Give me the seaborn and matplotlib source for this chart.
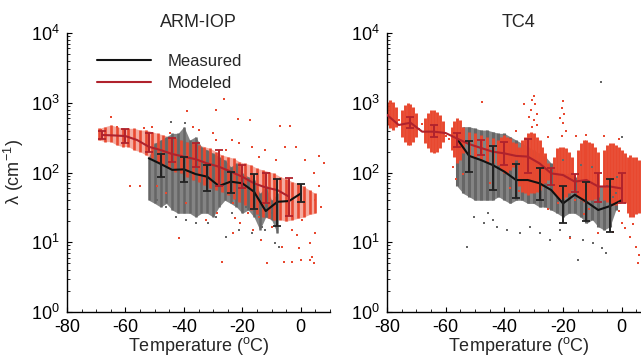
import numpy as np
import pandas as pd
import matplotlib
matplotlib.use("Agg")
import matplotlib.pyplot as plt
import seaborn as sns
from matplotlib.ticker import MultipleLocator, LogLocator, NullFormatter, FixedLocator

# ---------------- data ----------------
# ARM-IOP : binned medians and error bars
arm_mod_T = [-68, -64, -60, -56, -52, -48, -44, -40, -36, -32, -28, -24, -20, -16, -12, -8, -4]
arm_mod_y = [345, 340, 333, 292, 234, 210, 184, 169, 155, 135, 121, 103, 87, 70, 61, 56, 45]
arm_mod_err_T = [-68, -60, -52, -44, -36, -28, -20, -12, -4]
arm_mod_err_lo = [299, 262, 199, 143, 121, 63, 59, 37, 24]
arm_mod_err_hi = [394, 417, 365, 309, 267, 210, 126, 100, 83]

arm_meas_T = [-52, -48, -44, -40, -36, -32, -28, -24, -20, -16, -12, -8, -4, 0]
arm_meas_y = [160, 133, 109, 111, 95, 87, 64, 74, 70, 53, 28, 38, 39, 50]
arm_meas_err_T = [-48, -40, -32, -24, -16, -8, 0]
arm_meas_err_lo = [85, 72, 55, 51, 30, 17, 38]
arm_meas_err_hi = [184, 169, 128, 103, 95, 80, 68]

# ARM-IOP : extent of the dense point clouds per temperature column
arm_gray_T = list(range(-52, -7, 2))
arm_gray_hi = [169, 262, 292, 326, 364, 364, 454, 292, 326, 235, 210, 188, 169, 151, 121, 135, 97, 87, 78, 50, 63, 40, 50]
arm_gray_lo = [40, 36, 32, 36, 29, 26, 26, 26, 23, 26, 26, 23, 32, 40, 36, 32, 26, 29, 23, 15, 23, 21, 13.4]

arm_red_T = list(range(-69, 6, 2))
arm_red_hi = [430, 454, 480, 454, 430, 430, 430, 406, 406, 385, 364, 344, 326, 309, 292, 277, 262, 248, 235, 222,
              199, 178, 169, 160, 143, 135, 128, 115, 109, 103, 97, 87, 82, 74, 70, 63, 56, 50]
arm_red_lo = [292, 277, 277, 248, 235, 235, 210, 199, 178, 160, 143, 128, 115, 103, 97, 87, 78, 74, 66, 59,
              56, 53, 48, 42, 38, 34, 29, 25, 23, 22, 21, 21, 20, 21, 22, 23, 25, 26]

# ARM-IOP : scattered individual points
arm_red_pts_T = [-64.9, -58.5, -55.1, -41.8, -39.0, -29.0, -26.4, -21.6, -17.4, -7.1, -3.8, -1.5, 6.4, 7.8, 6.1,
                 5.0, 7.0, -26.8, -11.6, -5.6, -3.1, 0.0, 3.3, 3.9, 4.4, -13.7, -6.4, -0.7, -1.3, 5.0, 3.3,
                 -16.5, -20.9, -23.1, -22.6, -18.0, -28.5, -32.4, -39.2, -46.0, -49.3, -44.9, -34.7, -30.2,
                 -23.4, -16.6, -12.1, -5.3, 1.5, 4.4, -8.6, -14.3, -21.1, -25.6, -29.0, -36.9, -50.8, -53.6,
                 -62.8, -68.5, -8.6, -4.1, 0.4, -3.1, -9.9, -14.3, -18.8, -23.3]
arm_red_pts_y = [618, 65, 64, 11.6, 762, 775, 1130, 585, 560, 464, 464, 230, 174, 135, 63,
                 40, 32, 5.2, 5.0, 5.2, 5.2, 5.5, 5.6, 6.2, 5.0, 10.8, 8.6, 8.2, 12.7, 13.4, 9.6,
                 15, 18.7, 13.4, 22, 26, 26, 21, 36, 50, 63, 364, 406, 364,
                 292, 235, 210, 235, 151, 97, 151, 169, 262, 210, 292, 454, 454, 430,
                 454, 406, 36, 26, 21, 15, 16.7, 23, 40, 36]
arm_gray_pts_T = [-44.3, -39.7, -49.3, -46.0, -42.6, -39.2, -35.8, -31.9, -29.0, -25.6, -21.1, -16.6, -13.2,
                  -12.1, -8.7, -7.5, -13.2, -9.8, -4.1, -18.8, -23.4]
arm_gray_pts_y = [530, 520, 40, 32, 23, 21, 18.7, 19, 23, 12, 15, 13.4, 16.7,
                  15, 9.6, 8.6, 32, 26, 36, 32, 26]

# TC4 : binned medians and error bars
tc4_mod_T = [-80, -76, -72, -68, -64, -60, -56, -52, -48, -44, -40, -36, -32, -28, -24, -20, -16, -12, -8, -4, 0]
tc4_mod_y = [670, 480, 517, 385, 385, 368, 305, 255, 225, 199, 188, 173, 169, 135, 97, 92, 74, 78, 63, 63, 59]
tc4_mod_err_T = [-72, -64, -56, -48, -40, -32, -24, -16, -8, 0]
tc4_mod_err_lo = [429, 326, 234, 178, 128, 99, 66, 53, 38, 36]
tc4_mod_err_hi = [630, 480, 372, 292, 277, 299, 115, 95, 99, 99]

tc4_meas_T = [-56, -52, -48, -44, -40, -36, -32, -28, -24, -20, -16, -12, -8, -4, 0]
tc4_meas_y = [299, 173, 151, 128, 103, 78, 78, 70, 56, 36, 48, 38, 29, 33, 40]
tc4_meas_err_T = [-52, -44, -36, -28, -20, -12, -4]
tc4_meas_err_lo = [103, 57, 43, 41, 19, 20, 14]
tc4_meas_err_hi = [286, 240, 133, 115, 64, 72, 80]

# TC4 : extent of the dense point clouds
tc4_gray_T = list(range(-56, -1, 2))
tc4_gray_hi = [364, 454, 454, 430, 406, 406, 385, 364, 364, 326, 292, 262, 235, 210, 188, 169, 135, 97,
               97, 97, 87, 78, 78, 70, 63, 63, 56, 63]
tc4_gray_lo = [63, 50, 45, 40, 40, 40, 40, 45, 40, 36, 40, 40, 36, 36, 32, 32, 29, 26,
               23, 26, 26, 23, 18.7, 21, 16.7, 15, 16.7, 29]

tc4_red_T = [-80, -79, -78, -77, -75, -74, -73, -72, -71, -70, -67, -66, -65, -64, -63, -62, -61,
             -58, -57, -56, -55, -54, -52, -50, -48, -46, -44, -42, -41, -40, -39, -38, -37, -36,
             -35, -34, -33, -32, -31, -30, -29, -28, -27, -26, -25, -23, -22, -21, -20, -19, -18, -17,
             -15, -14, -13, -12, -11, -10, -9, -8, -6, -5, -4, -3, -2, -1, 0, 1, 2, 3, 4, 5, 6, 7]
tc4_red_hi = [1037, 1095, 1037, 879, 787, 930, 981, 960, 879, 705, 600, 705, 787, 787, 745, 670, 540,
              454, 540, 600, 566, 454, 385, 364, 344, 326, 309, 292, 326, 344, 326, 309, 277, 262,
              235, 292, 326, 364, 385, 364, 326, 292, 235, 188, 135, 169, 222, 235, 235, 222, 199, 169,
              210, 262, 292, 292, 277, 262, 235, 199, 210, 248, 262, 262, 248, 235, 210, 188, 169, 178, 169, 169, 151, 135]
tc4_red_lo = [480, 430, 406, 454, 326, 277, 248, 248, 277, 326, 262, 222, 199, 188, 199, 222, 277,
              210, 169, 135, 151, 188, 169, 160, 151, 143, 135, 128, 109, 97, 97, 109, 121, 151,
              63, 53, 50, 48, 50, 50, 53, 56, 63, 70, 78, 50, 45, 42, 42, 45, 50, 56,
              45, 40, 38, 38, 40, 40, 42, 45, 40, 38, 36, 34, 34, 36, 38, 36, 26, 23, 23, 25, 26, 29]

tc4_red_pts_T = [-31, -30.5, -30, -29.5, -29, -30, -31.5, -29, -30.5, -20, -20.5, -19.5, -21, -20, -19, -20.5,
                 -47.7, -33.3, -36, -25, -15.5, -12, -6, -1, -56.5, -54, -57.5, -8.2, -4.1, -3, 0, 5, 5.6, 6,
                 -17.7, -21.6, -16, -25, -35, -45, -38, 3, 1, -1, 4, -11, -13, -76, -69, -60, -59, -68]
tc4_red_pts_y = [800, 1100, 1250, 950, 700, 560, 620, 480, 450, 1050, 850, 700, 600, 520, 400, 330,
                 1037, 950, 400, 320, 330, 350, 330, 300, 80, 95, 120, 13.4, 23, 14, 18.7, 8.6, 5.0, 6.5,
                 11.4, 36, 40, 30, 55, 70, 60, 12, 16, 28, 18, 30, 25, 560, 420, 330, 300, 500]
tc4_gray_pts_T = [-52.8, -50.5, -47.1, -45.4, -42.6, -39.2, -43.7, -34.7, -31.3, -27.9, -24.5, -21.1, -17.7,
                  -13.2, -9.8, -6.6, -5.3, -14.9, -6.9, 0.0, -1.6, -5.0, -20, -14, -10, -2, -3]
tc4_gray_pts_y = [8.6, 23, 18.7, 26, 16.7, 15, 21, 13.4, 16.7, 13.4, 10.8, 15, 12,
                  10.8, 9.6, 8.2, 6.9, 5.6, 2000, 326, 87, 63, 150, 130, 120, 50, 45]

# ---------------- style ----------------
sns.set_theme(style="ticks")
plt.rcParams['font.family'] = ['Liberation Sans', 'DejaVu Sans']
plt.rcParams['mathtext.fontset'] = 'custom'
plt.rcParams['mathtext.rm'] = 'Liberation Sans'
plt.rcParams['mathtext.it'] = 'Liberation Sans:italic'
plt.rcParams['mathtext.default'] = 'regular'
plt.rcParams['axes.unicode_minus'] = False

RED_PT = '#e8482f'
GRAY_PT = '#666666'
RED_LN = '#b0222c'
BLACK_LN = '#111111'
FS = 13

fig = plt.figure(figsize=(6.41, 3.57), dpi=100)
axL = fig.add_axes([67 / 641, 45 / 357, 263 / 641, 279 / 357])
axR = fig.add_axes([387 / 641, 45 / 357, 264 / 641, 279 / 357])


def errbars(ax, T, y_T, y_v, lo, hi, color):
    c = np.interp(T, y_T, y_v)
    lo = np.asarray(lo, float)
    hi = np.asarray(hi, float)
    ax.errorbar(T, c, yerr=[c - lo, hi - c], fmt='none', ecolor=color, elinewidth=1.4,
                capsize=2.6, capthick=1.3, zorder=5)


def cloud(ax, T, lo, hi, lw, fill_alpha, fill_z, color, z):
    if fill_alpha > 0:
        ax.fill_between(T, lo, hi, color=color, alpha=fill_alpha, linewidth=0, zorder=fill_z)
    ax.vlines(T, lo, hi, colors=color, linewidth=lw, zorder=z)


def panel(ax, title, gray, red, gray_pts, red_pts, mod, mod_err, meas, meas_err, legend=False):
    cloud(ax, *gray, GRAY_PT, 1)
    cloud(ax, *red, RED_PT, 2)
    sns.scatterplot(x=gray_pts[0], y=gray_pts[1], ax=ax, color=GRAY_PT, s=3.5, marker='s',
                    linewidth=0, zorder=2.5)
    sns.scatterplot(x=red_pts[0], y=red_pts[1], ax=ax, color=RED_PT, s=3.5, marker='s',
                    linewidth=0, zorder=2.6)
    sns.lineplot(x=meas[0], y=meas[1], ax=ax, color=BLACK_LN, linewidth=1.5, zorder=4,
                 label='Measured' if legend else None, legend=False)
    sns.lineplot(x=mod[0], y=mod[1], ax=ax, color=RED_LN, linewidth=1.5, zorder=4,
                 label='Modeled' if legend else None, legend=False)
    errbars(ax, mod_err[0], mod[0], mod[1], mod_err[1], mod_err[2], RED_LN)
    errbars(ax, meas_err[0], meas[0], meas[1], meas_err[1], meas_err[2], '#222222')

    ax.set_yscale('log')
    ax.set_ylim(1, 1e4)
    ax.set_xlim(-80, 10)
    ax.xaxis.set_major_locator(FixedLocator([-80, -60, -40, -20, 0]))
    ax.xaxis.set_minor_locator(MultipleLocator(5))
    ax.yaxis.set_major_locator(LogLocator(base=10, numticks=10))
    ax.yaxis.set_minor_locator(LogLocator(base=10, subs=np.arange(2, 10), numticks=10))
    ax.yaxis.set_minor_formatter(NullFormatter())
    ax.tick_params(which='major', direction='in', length=3.5, width=0.8, labelsize=FS, pad=5, colors='black')
    ax.tick_params(which='minor', direction='in', length=2.2, width=0.7)
    for s in ['top', 'right']:
        ax.spines[s].set_visible(False)
    for s in ['left', 'bottom']:
        ax.spines[s].set_color('black')
        ax.spines[s].set_linewidth(1.0)
    ax.set_title(title, fontsize=FS, pad=4)
    ax.set_xlabel('Temperature ($^{o}$C)', fontsize=FS, labelpad=-1)
    ax.set_ylabel('')
    ax.grid(False)


panel(axL, 'ARM-IOP',
      (arm_gray_T, arm_gray_lo, arm_gray_hi, 1.8, 0.8, 0.5),
      (arm_red_T, arm_red_lo, arm_red_hi, 1.9, 0.45, 0.4),
      (arm_gray_pts_T, arm_gray_pts_y), (arm_red_pts_T, arm_red_pts_y),
      (arm_mod_T, arm_mod_y), (arm_mod_err_T, arm_mod_err_lo, arm_mod_err_hi),
      (arm_meas_T, arm_meas_y), (arm_meas_err_T, arm_meas_err_lo, arm_meas_err_hi),
      legend=True)
panel(axR, 'TC4',
      (tc4_gray_T, tc4_gray_lo, tc4_gray_hi, 2.2, 0.8, 0.5),
      (tc4_red_T, tc4_red_lo, tc4_red_hi, 2.1, 0.0, 0.4),
      (tc4_gray_pts_T, tc4_gray_pts_y), (tc4_red_pts_T, tc4_red_pts_y),
      (tc4_mod_T, tc4_mod_y), (tc4_mod_err_T, tc4_mod_err_lo, tc4_mod_err_hi),
      (tc4_meas_T, tc4_meas_y), (tc4_meas_err_T, tc4_meas_err_lo, tc4_meas_err_hi))

axL.set_ylabel('λ (cm$^{-1}$)', fontsize=FS, labelpad=4)
leg = axL.legend(loc='upper left', bbox_to_anchor=(0.09, 0.95), frameon=False, fontsize=12,
                 handlelength=3.2, handletextpad=1.0, labelspacing=0.45, borderaxespad=0)

fig.savefig('out.png', dpi=100)
